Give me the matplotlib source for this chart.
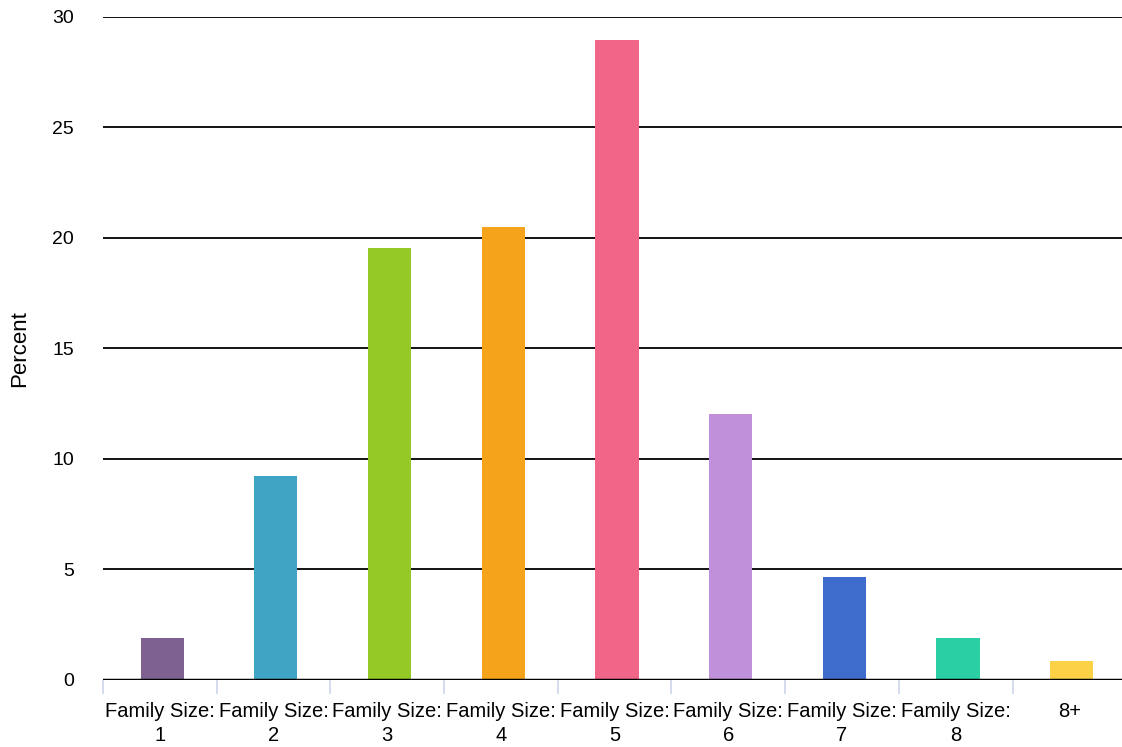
import numpy as np
import matplotlib
matplotlib.use("Agg")
import matplotlib.pyplot as plt

plt.rcParams['font.family'] = ['Liberation Sans', 'DejaVu Sans']

categories = ["Family Size:\n1", "Family Size:\n2", "Family Size:\n3", "Family Size:\n4",
              "Family Size:\n5", "Family Size:\n6", "Family Size:\n7", "Family Size:\n8", "8+"]
percent = [1.9, 9.25, 19.55, 20.5, 28.95, 12.05, 4.65, 1.9, 0.85]
colors = ["#7e6191", "#40a4c4", "#95c926", "#f4a31b", "#f06588",
          "#c091da", "#3d6ccc", "#2bcfa4", "#fcd146"]
yticks = [0, 5, 10, 15, 20, 25, 30]

fig = plt.figure(figsize=(11.22, 7.47), dpi=100)
ax = fig.add_axes([0.0918, 0.0897, 0.912, 0.8876])

x = np.arange(len(categories))
ax.bar(x + 0.02, percent, width=0.38, color=colors, zorder=3)

ax.set_xlim(-0.5, len(categories) - 0.5)
ax.set_ylim(0, 30)
ax.set_yticks(yticks)
ax.yaxis.grid(True, color='black', linewidth=1.3)
ax.set_axisbelow(True)
ax.tick_params(axis='y', length=0, pad=21, labelsize=14)

# category labels centred, tick marks on the boundaries
ax.set_xticks(x)
ax.set_xticklabels(categories, fontsize=14.5, linespacing=1.3)
ax.tick_params(axis='x', which='major', length=0, pad=16)
ax.set_xticks(np.arange(len(categories)) - 0.5, minor=True)
ax.tick_params(axis='x', which='minor', length=10, width=1.2, color='#ccd6eb')

for s in ['top', 'right', 'left', 'bottom']:
    ax.spines[s].set_visible(False)
ax.axhline(0, color='black', linewidth=2.5, zorder=4)

ax.set_ylabel("Percent", fontsize=16)
ax.yaxis.set_label_coords(-0.071, 0.5)

fig.savefig("out.png", dpi=100)
